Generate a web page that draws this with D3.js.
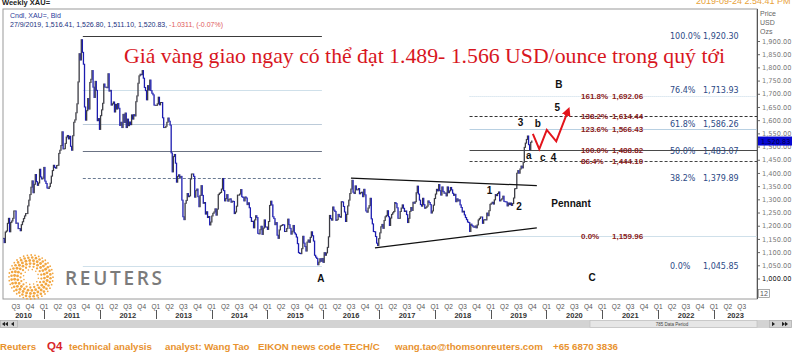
<!DOCTYPE html>
<html>
<head>
<meta charset="utf-8">
<script src="https://cdn.jsdelivr.net/npm/d3@7"></script>
<style>
body { margin: 0; background: #fff; }
svg { display: block; }
text { font-family: "Liberation Sans", Arial, sans-serif; }
</style>
</head>
<body>
<svg id="chart" width="792" height="353"></svg>
<script>
// weekly closes of spot gold (XAU=), first week ends 9 Apr 2010
const firstWeek = new Date(2010, 3, 9)
const close2010 = [1152,1136,1176,1180, 1209,1228,1177,1212, 1218,1228,1256,1256, 1209,1210,1189,1189,1181, 1204,1215,1227,1237, 1246,1246,1275,1297, 1318,1346,1370,1325,1357, 1394,1367,1353,1362, 1414,1385,1377,1380,1421]
const close2011 = [1369,1360,1343,1341, 1348,1361,1388,1409, 1429,1421,1418,1428, 1429,1474,1486,1504,1556, 1491,1492,1512,1536, 1542,1529,1539,1501, 1486,1541,1592,1601,1628, 1662,1745,1852,1828, 1905,1857,1812,1650,1600, 1636,1682,1642,1743, 1755,1788,1725,1686, 1747,1713,1598,1606,1565]
const close2012 = [1617,1639,1664,1737, 1725,1725,1723,1776, 1710,1713,1657,1662,1669, 1631,1660,1642,1663, 1645,1580,1592,1572, 1622,1591,1627,1572,1604, 1579,1593,1583,1620, 1604,1621,1616,1670,1692, 1740,1768,1774,1772, 1788,1759,1724,1712, 1677,1731,1714,1752,1712, 1702,1696,1657,1656]
const close2013 = [1656,1662,1687,1658, 1667,1667,1609,1572, 1572,1577,1592,1608,1596, 1581,1476,1404,1462, 1470,1437,1365,1387,1393, 1383,1387,1297,1234, 1223,1285,1296,1322, 1310,1313,1377,1396,1396, 1387,1308,1333,1339, 1310,1272,1315,1352, 1315,1285,1288,1244,1253, 1231,1235,1203,1214]
const close2014 = [1237,1247,1252,1264,1240, 1263,1318,1323,1326, 1339,1379,1333,1294, 1303,1318,1293,1300, 1302,1289,1293,1292,1246, 1252,1274,1316,1316, 1320,1337,1310,1307, 1294,1309,1305,1280,1287, 1268,1231,1216,1217, 1192,1222,1238,1231,1171, 1169,1185,1198,1167, 1191,1222,1195,1195]
const close2015 = [1186,1216,1277,1293,1279, 1234,1227,1204,1212, 1164,1152,1184,1199, 1201,1204,1203,1178, 1178,1189,1225,1204,1190, 1168,1179,1201,1173, 1168,1157,1132,1098,1095, 1094,1113,1160,1134, 1121,1104,1138,1146, 1137,1156,1177,1162,1142, 1088,1081,1076,1052, 1062,1075,1065,1076]
const close2016 = [1061,1098,1088,1097,1118, 1158,1239,1227,1221, 1271,1259,1254,1220, 1223,1243,1235,1232,1291, 1290,1273,1252,1216, 1243,1275,1297,1322, 1339,1372,1327,1322,1351, 1336,1336,1341,1321, 1325,1327,1310,1338,1317, 1256,1251,1267,1276, 1304,1226,1207,1178, 1177,1159,1134,1125,1151]
const close2017 = [1173,1196,1205,1190, 1220,1234,1239,1257, 1234,1201,1229,1243,1249, 1254,1288,1284,1268, 1228,1228,1254,1267, 1279,1266,1254,1256,1242, 1212,1228,1254,1269, 1258,1289,1285,1291, 1325,1350,1320,1297,1280, 1274,1304,1280,1266, 1269,1274,1294,1288, 1280,1248,1256,1278,1303]
const close2018 = [1320,1338,1332,1356, 1333,1316,1347,1330, 1323,1324,1313,1347,1325, 1332,1345,1336,1323, 1315,1319,1291,1302, 1294,1298,1279,1269,1252, 1255,1241,1231,1223, 1214,1212,1178,1206,1201, 1196,1194,1199,1192, 1203,1222,1227,1233, 1233,1209,1222,1223,1222, 1248,1238,1257,1281]
const close2019 = [1285,1289,1282,1298, 1318,1314,1322,1328, 1294,1298,1302,1312,1292, 1291,1290,1275,1286, 1280,1286,1277,1284,1305, 1340,1341,1399,1409, 1399,1415,1426,1419, 1440,1497,1513,1527,1540, 1507,1488,1516,1521]

const priceTicks = [1000,1050,1100,1150,1200,1250,1300,1350,1400,1450,1500,1550,1600,1650,1700,1750,1800,1850,1900]
const quarterNames = ["Q1","Q2","Q3","Q4"]
const years = [2010,2011,2012,2013,2014,2015,2016,2017,2018,2019,2020,2021,2022,2023]
const lastPrice = 1520.83

// Fibonacci retracement 2011 high -> 2015 low
const fibLeftPct = ["100.0%","76.4%","61.8%","50.0%","38.2%","0.0%"]
const fibLeftVal = [1920.30,1713.93,1586.26,1483.07,1379.89,1045.85]
// Fibonacci projection from the 2018 low
const fibRightPct = ["161.8%","138.2%","123.6%","100.0%","86.4%","0.0%"]
const fibRightVal = [1692.06,1614.44,1566.43,1488.82,1444.10,1159.96]

const waveText = ["B","5","3","b","a","c","4","1","2","Pennant","A","C"]
const waveDate = ["2020-03-22","2020-03-11","2019-07-16","2019-11-06","2019-09-08","2019-12-08","2020-02-16","2018-12-25","2019-07-06","2020-06-10","2015-12-18","2020-10-26"]
const wavePrice = [1734,1648,1590,1586,1465,1460,1460,1335,1272,1283,999,1003]

const pennantTop = [["2016-07-01",1380],["2019-10-30",1352]]
const pennantBottom = [["2016-12-05",1116],["2019-10-30",1192]]
const forecastDate = ["2019-10-04","2019-11-15","2020-01-03","2020-03-05","2020-05-22"]
const forecastPrice = [1548,1490,1563,1520,1637]

const svg = d3.select("#chart")
const L = 3, T = 9, R = 757, B = 299

const x = d3.scaleTime()
	.domain([new Date(2011, 0, 1), new Date(2023, 0, 1)])
	.range([44, 714])
const y = d3.scaleLinear()
	.domain([1000, 1900])
	.range([278.5, 41])
const parse = d3.timeParse("%Y-%m-%d")

const defs = svg.append("defs")
defs.append("clipPath").attr("id", "plot")
	.append("rect").attr("x", L).attr("y", T).attr("width", R - L).attr("height", B - T)
defs.append("marker")
	.attr("id", "arrow")
	.attr("viewBox", "0 0 10 10")
	.attr("refX", 6).attr("refY", 5)
	.attr("markerWidth", 4.5).attr("markerHeight", 4.5)
	.attr("orient", "auto")
	.append("path").attr("d", "M0,0 L10,5 L0,10 z").attr("fill", "#e3141b")

// header
svg.append("text").attr("x", 2).attr("y", 5).attr("font-size", 7.5).attr("font-weight", "bold")
	.attr("fill", "#222").text("Weekly XAU=")
svg.append("text").attr("x", 696).attr("y", 4).attr("font-size", 9).attr("fill", "#e8a23a")
	.text("2019-09-24 2:54:41 PM")

// frame
svg.append("rect").attr("x", L).attr("y", T).attr("width", R - L).attr("height", B - T)
	.attr("fill", "#fff").attr("stroke", "#9a9a9a").attr("stroke-width", 1)

svg.append("text").attr("x", 10).attr("y", 18).attr("font-size", 7).attr("fill", "#2a3a9a")
	.text("Cndl, XAU=, Bid")
const info = svg.append("text").attr("x", 10).attr("y", 27).attr("font-size", 7)
info.append("tspan").attr("fill", "#22307e").text("27/9/2019, 1,516.41, 1,526.80, 1,511.10, 1,520.83, ")
info.append("tspan").attr("fill", "#e05a5a").text("-1.0311, (-0.07%)")

// reuters logo
const logo = svg.append("g").attr("transform", "translate(31,277)")
;[[7.5,12,0.8],[10.5,17,1.15],[13.5,22,1.4],[16.5,27,1.45],[19.5,32,1.3],[22,36,0.9]].forEach(function(r) {
	for (let k = 0; k < r[1]; k++) {
		const a = 2 * Math.PI * k / r[1] + r[0]
		logo.append("circle").attr("cx", r[0] * Math.cos(a)).attr("cy", r[0] * Math.sin(a))
			.attr("r", r[2]).attr("fill", "#f2a640")
	}
})
svg.append("text").attr("x", 65).attr("y", 285).attr("font-family", "'Open Sans', sans-serif")
	.style("font-family", "'Open Sans', sans-serif")
	.attr("font-weight", 600).attr("font-size", 19).attr("fill", "#7b7b7b")
	.attr("textLength", 97).text("REUTERS")

const plot = svg.append("g").attr("clip-path", "url(#plot)")

// fibonacci lines
const leftStyle = [
	{c: "#3a3a3a", d: null}, {c: "#cfe0ea", d: null}, {c: "#bccbd9", d: null},
	{c: "#6b7384", d: null}, {c: "#6b7c94", d: "3,2"}, {c: "#cfe0ea", d: null}]
const rightStyle = [
	{c: "#c4d8e6", d: "1,1"}, {c: "#333", d: "3,2"}, {c: "#b8d0e2", d: null},
	{c: "#4a4a4a", d: null}, {c: "#444", d: "3,2"}, {c: "#cfe0ea", d: null}]
const leftX0 = x(parse("2011-09-12")), leftX1 = x(parse("2015-12-24"))
const rightX0 = x(parse("2018-08-16"))

fibLeftVal.forEach(function(v, i) {
	plot.append("line").attr("x1", leftX0).attr("x2", leftX1)
		.attr("y1", Math.round(y(v)) + 0.5).attr("y2", Math.round(y(v)) + 0.5)
		.attr("stroke", leftStyle[i].c).attr("stroke-dasharray", leftStyle[i].d)
})
fibRightVal.forEach(function(v, i) {
	plot.append("line").attr("x1", rightX0).attr("x2", R)
		.attr("y1", Math.round(y(v)) + 0.5).attr("y2", Math.round(y(v)) + 0.5)
		.attr("stroke", rightStyle[i].c).attr("stroke-dasharray", rightStyle[i].d)
})

// candles
const closes = [].concat(close2010, close2011, close2012, close2013, close2014,
	close2015, close2016, close2017, close2018, close2019)
const weeks = closes.map(function(c, i) {
	return {date: d3.timeDay.offset(firstWeek, 7 * i), close: c, open: i ? closes[i - 1] : c}
})
plot.selectAll("rect.candle")
	.data(weeks)
	.enter()
	.append("rect")
	.attr("class", "candle")
	.attr("x", d => x(d.date) - 0.65)
	.attr("width", 1.3)
	.attr("y", d => y(Math.max(d.open, d.close)) - 0.5)
	.attr("height", d => Math.abs(y(d.open) - y(d.close)) + 1)
	.attr("fill", d => d.close >= d.open ? "#3c3c44" : "#1c1cb0")

// pennant
;[pennantTop, pennantBottom].forEach(function(p) {
	plot.append("line")
		.attr("x1", x(parse(p[0][0]))).attr("y1", y(p[0][1]))
		.attr("x2", x(parse(p[1][0]))).attr("y2", y(p[1][1]))
		.attr("stroke", "#111").attr("stroke-width", 1.2)
})

// projected path
const fc = forecastDate.map((d, i) => [x(parse(d)), y(forecastPrice[i])])
plot.append("path")
	.attr("d", d3.line()(fc))
	.attr("fill", "none").attr("stroke", "#e3141b").attr("stroke-width", 2)
	.attr("stroke-linejoin", "miter")
	.attr("marker-end", "url(#arrow)")

// wave labels
waveText.forEach(function(t, i) {
	svg.append("text")
		.attr("x", x(parse(waveDate[i]))).attr("y", y(wavePrice[i]) + 3.6)
		.attr("text-anchor", "middle").attr("font-size", 10).attr("font-weight", "bold")
		.attr("fill", "#111").text(t)
})

// fib labels
fibLeftVal.forEach(function(v, i) {
	const g = svg.append("g").attr("font-size", 8).attr("fill", "#2c4a86")
	g.append("text").attr("x", 670).attr("y", y(v) + 3)
		.style("font-family", "'DejaVu Sans', sans-serif").text(fibLeftPct[i])
	g.append("text").attr("x", 703).attr("y", y(v) + 3)
		.style("font-family", "'DejaVu Sans', sans-serif").text(d3.format(",.2f")(v))
})
fibRightVal.forEach(function(v, i) {
	const g = svg.append("g").attr("font-size", 8).attr("font-weight", "bold").attr("fill", "#8a2020")
	g.append("text").attr("x", 581).attr("y", y(v) + 3).text(fibRightPct[i])
	g.append("text").attr("x", 612).attr("y", y(v) + 3).text(d3.format(",.2f")(v))
})

// title
svg.append("text").attr("x", 124).attr("y", 63)
	.attr("font-size", 21).attr("fill", "#d8161e")
	.attr("textLength", 601).attr("lengthAdjust", "spacingAndGlyphs")
	.style("font-family", "'Liberation Serif', 'Times New Roman', serif")
	.text("Giá vàng giao ngay có thể đạt 1.489- 1.566 USD/ounce trong quý tới")

// price axis
const axis = svg.append("g")
	.attr("transform", `translate(${R},0)`)
	.call(d3.axisRight(y).tickValues(priceTicks).tickFormat(d3.format(",.2f")).tickSize(3).tickPadding(2))
axis.select(".domain").remove()
axis.selectAll("line").attr("stroke", "#666")
axis.selectAll("text").attr("font-size", 6.6).attr("fill", "#7a7a7a")
	.style("font-family", "'DejaVu Sans', sans-serif")
axis.selectAll("text").filter(d => d === 1000).attr("fill", "#222")
svg.append("line").attr("x1", R + 0.5).attr("x2", R + 0.5).attr("y1", T).attr("y2", B)
	.attr("stroke", "#555")
;["Price", "USD", "Ozs"].forEach(function(t, i) {
	svg.append("text").attr("x", 760).attr("y", 16 + i * 9).attr("font-size", 7)
		.attr("fill", "#666").text(t)
})
svg.append("rect").attr("x", R + 1).attr("y", y(lastPrice) - 4.5).attr("width", 792 - R).attr("height", 9)
	.attr("fill", "#0808d4")
svg.append("text").attr("x", 761).attr("y", y(lastPrice) + 2.5).attr("font-size", 6.6)
	.style("font-family", "'DejaVu Sans', sans-serif")
	.attr("fill", "#00003c").text(d3.format(",.2f")(lastPrice))
svg.append("rect").attr("x", 758.5).attr("y", 289.5).attr("width", 11).attr("height", 8)
	.attr("fill", "none").attr("stroke", "#888").attr("stroke-width", 0.7)
svg.append("text").attr("x", 760).attr("y", 296).attr("font-size", 7).attr("fill", "#555").text("12")

// time axis
years.forEach(function(yr) {
	const y0 = new Date(yr, 0, 1), y1 = new Date(yr + 1, 0, 1)
	quarterNames.forEach(function(q, k) {
		const xq = x(new Date(yr, k * 3, 1))
		if (xq < 8 || xq > 752) return
		svg.append("text").attr("x", xq).attr("y", 308.5).attr("text-anchor", "middle")
			.attr("font-size", 6.5).attr("fill", "#555").text(q)
	})
	const a = Math.max(x(y0), L), b = Math.min(x(y1), R)
	svg.append("text").attr("x", (a + b) / 2).attr("y", 318).attr("text-anchor", "middle")
		.attr("font-size", 7.5).attr("font-weight", "bold").attr("fill", "#333").text(yr)
	if (x(y0) > L && x(y0) < R) {
		svg.append("line").attr("x1", Math.round(x(y0)) + 0.5).attr("x2", Math.round(x(y0)) + 0.5)
			.attr("y1", 310).attr("y2", 319).attr("stroke", "#555")
	}
})

// scroll bar
svg.append("rect").attr("x", 0).attr("y", 320).attr("width", 792).attr("height", 8).attr("fill", "#d3d3d3")
svg.append("rect").attr("x", 590).attr("y", 320.5).attr("width", 167).attr("height", 7)
	.attr("fill", "#e6e6e6").attr("stroke", "#bdbdbd").attr("stroke-width", 0.6)
svg.append("text").attr("x", 672).attr("y", 326).attr("text-anchor", "middle").attr("font-size", 4.5)
	.attr("fill", "#444").text("785 Data Period")
;[[2, -1], [5, -1], [11, -1], [772, 1], [782, 1], [785, 1]].forEach(function(b) {
	const cx = b[0] + 1.5, s = b[1]
	svg.append("path").attr("d", `M${cx - 1.5 * s},321.8 L${cx + 1.5 * s},324 L${cx - 1.5 * s},326.2 z`)
		.attr("fill", "#222")
})
svg.append("rect").attr("x", 0.5).attr("y", 320.5).attr("width", 17).attr("height", 7)
	.attr("fill", "none").attr("stroke", "#aaa").attr("stroke-width", 0.6)
svg.append("rect").attr("x", 769.5).attr("y", 320.5).attr("width", 22).attr("height", 7)
	.attr("fill", "none").attr("stroke", "#aaa").attr("stroke-width", 0.6)

// footer
const foot = [
	["Reuters", 0, "#e8922e", 9.7],
	["Q4", 47, "#d8262a", 11.5],
	["technical analysis", 69, "#e8922e", 9.7],
	["analyst: Wang Tao", 165, "#e8922e", 9.7],
	["EIKON news code TECH/C", 258, "#e8922e", 9.7],
	["wang.tao@thomsonreuters.com", 395, "#e8922e", 9.7],
	["+65 6870 3836", 553, "#e8922e", 9.7]]
foot.forEach(function(f) {
	svg.append("text").attr("x", f[1]).attr("y", 349.5).attr("font-size", f[3])
		.attr("font-weight", "bold").attr("fill", f[2]).text(f[0])
})
</script>
</body>
</html>
